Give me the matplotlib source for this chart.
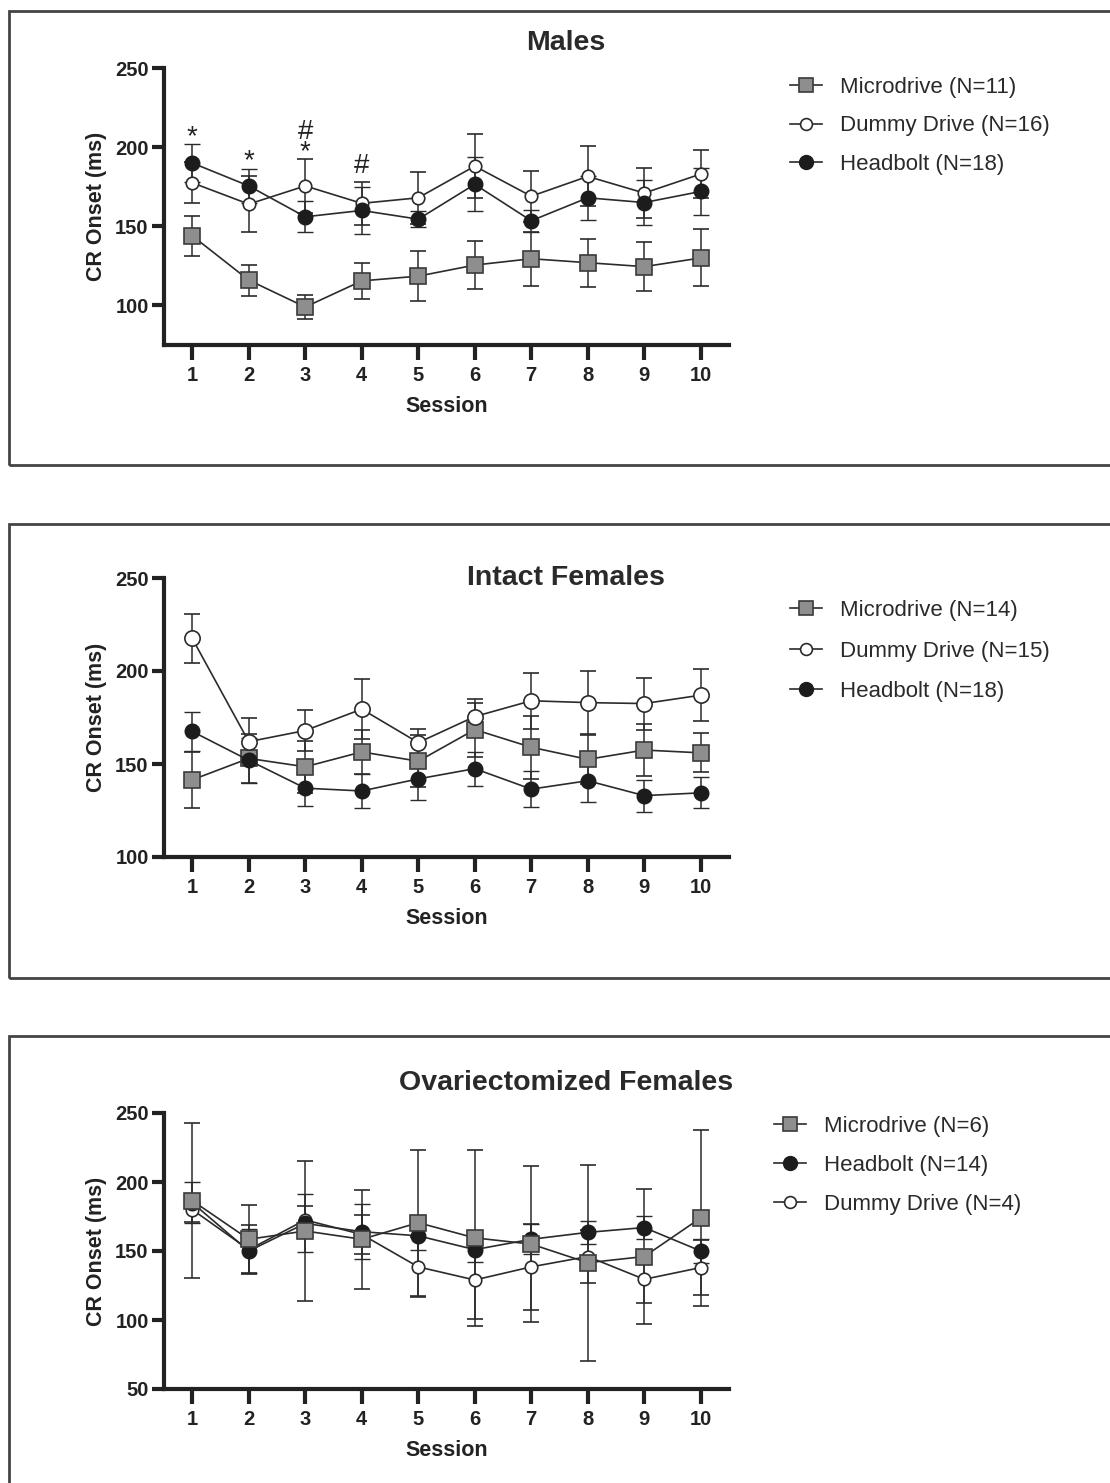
import matplotlib.pyplot as plt
from matplotlib.patches import Rectangle
from matplotlib.lines import Line2D

plt.rcParams['font.family'] = ['Liberation Sans', 'DejaVu Sans']

sessions = [1, 2, 3, 4, 5, 6, 7, 8, 9, 10]

# Males
males_micro = [144, 116, 99, 115.5, 118.5, 125.5, 129.5, 127, 124.5, 130]
males_micro_sem = [12.7, 9.8, 7.5, 11.5, 15.8, 15.2, 17, 15.2, 15.7, 18]
males_dummy = [177.5, 164, 175.5, 164.5, 168, 188, 169, 181.5, 171, 183]
males_dummy_sem = [13, 17.5, 17, 13.5, 16.5, 20, 16, 19, 16, 15]
males_head = [190, 175.5, 156, 160, 154.5, 176.5, 153.5, 168, 165, 172]
males_head_sem = [12, 10.5, 9.7, 15, 5, 17, 7, 14, 14, 15]

# Intact females
intact_micro = [141.5, 153, 148.5, 156.5, 151.5, 168.5, 159, 152.5, 157.5, 156]
intact_micro_sem = [15, 13, 14, 12, 14, 14.5, 17, 13, 14, 10.5]
intact_dummy = [217.5, 162, 168, 179.5, 161.5, 175.5, 184, 183, 182.5, 187]
intact_dummy_sem = [13, 12.5, 11, 16, 7.5, 9.3, 15, 17, 14, 14]
intact_head = [167.5, 152, 137, 135.5, 142, 147.5, 136.5, 141, 133, 134.5]
intact_head_sem = [10.5, 12, 9.5, 9, 11.5, 9.2, 9.7, 11.5, 8.6, 8.4]

# Ovariectomized females
ovx_micro = [186.5, 158.5, 164.5, 158.5, 170.5, 159.5, 155, 141.5, 146, 174]
ovx_micro_sem = [56, 24.5, 51, 36, 53, 63.5, 56.5, 71, 49, 64]
ovx_head = [185, 150, 170, 164, 161, 151, 158.5, 163.5, 167, 150]
ovx_head_sem = [15, 16, 21, 20, 10, 9, 11, 8.5, 8.5, 8.5]
ovx_dummy = [180, 151, 172.5, 162, 138.5, 129, 138.5, 146, 129.5, 138]
ovx_dummy_sem = [9, 18, 10, 14, 22, 28, 31, 19, 17.5, 20]

# significance marks over the males panel: (session, y, symbol)
males_marks = [(1, 206, '*'), (2, 191, '*'), (3, 203, '#\n*'), (4, 188, '#')]

LINE = '#2b2b2b'
GRAY = '#8e8e8e'

styles = {
    'micro': dict(marker='s', ms=11.5, mfc=GRAY, mec='#3a3a3a', mew=1.2),
    'dummy': dict(marker='o', ms=10, mfc='white', mec=LINE, mew=1.2),
    'head': dict(marker='o', ms=10.5, mfc='#1c1c1c', mec='#1c1c1c', mew=1.0),
}
legend_ms = {'micro': 9.5, 'dummy': 8.5, 'head': 10}

fig = plt.figure(figsize=(11.1, 14.83), dpi=100)
W, H = 1110, 1483


def fx(px):
    return px / W


def fy(py):
    return 1 - py / H


# panel frames
for top, bottom in [(11, 465), (524, 978), (1036, 1490)]:
    fig.patches.append(Rectangle((fx(9), fy(bottom)), fx(1200), fy(top) - fy(bottom),
                                 transform=fig.transFigure, fill=False,
                                 edgecolor='#444444', linewidth=2.0))


def draw_panel(ax, title, series, ylim, yticks, leg_pos, leg_order, title_y,
               dummy_ms=10, spacing=0.8):
    handles = {}
    for key, y, err, label in series:
        st = dict(styles[key])
        if key == 'dummy':
            st['ms'] = dummy_ms
        ax.errorbar(sessions, y, yerr=err, color=LINE, lw=1.2, elinewidth=1.1,
                    capsize=6, capthick=1.1, clip_on=False, **st)
        lst = dict(styles[key])
        lst['ms'] = legend_ms[key]
        handles[key] = (Line2D([], [], color=LINE, lw=1.2, **lst), label)
    ax.set_xlim(0.5, 10.5)
    ax.set_ylim(*ylim)
    ax.set_yticks(yticks)
    ax.set_xticks(sessions)
    for s in ['top', 'right']:
        ax.spines[s].set_visible(False)
    for s in ['left', 'bottom']:
        ax.spines[s].set_linewidth(3)
        ax.spines[s].set_color('#222222')
    ax.tick_params(axis='both', width=3, length=9, color='#222222', labelsize=14.5, pad=2)
    ax.tick_params(axis='x', length=11, pad=4)
    for t in ax.get_xticklabels() + ax.get_yticklabels():
        t.set_fontweight('bold')
        t.set_color('#222222')
    ax.set_xlabel('Session', fontsize=15.5, fontweight='bold', color='#222222', labelpad=8)
    ax.set_ylabel('CR Onset (ms)', fontsize=15.5, fontweight='bold', color='#222222', labelpad=6)
    fig.text(fx(566), fy(title_y), title, fontsize=20.5, fontweight='bold',
             color='#2a2a2a', ha='center', va='center')
    ax.legend([handles[k][0] for k in leg_order], [handles[k][1] for k in leg_order],
              loc='upper left', bbox_to_anchor=(fx(leg_pos[0]), fy(leg_pos[1])),
              bbox_transform=fig.transFigure, frameon=False, fontsize=16,
              handlelength=1.45, handletextpad=0.8, labelspacing=spacing,
              borderpad=0, borderaxespad=0, labelcolor='#2a2a2a')


# Males
ax1 = fig.add_axes([fx(164), fy(345), fx(729) - fx(164), fy(68) - fy(345)])
draw_panel(ax1, 'Males',
           [('micro', males_micro, males_micro_sem, 'Microdrive (N=11)'),
            ('dummy', males_dummy, males_dummy_sem, 'Dummy Drive (N=16)'),
            ('head', males_head, males_head_sem, 'Headbolt (N=18)')],
           (75, 250), [100, 150, 200, 250], (790, 77), ['micro', 'dummy', 'head'], 43,
           dummy_ms=9, spacing=0.78)
for s, y, sym in males_marks:
    ax1.text(s, y, sym, ha='center', va='center', fontsize=20, color='#222222',
             linespacing=0.72)

# Intact females
ax2 = fig.add_axes([fx(164), fy(857), fx(729) - fx(164), fy(578) - fy(857)])
draw_panel(ax2, 'Intact Females',
           [('micro', intact_micro, intact_micro_sem, 'Microdrive (N=14)'),
            ('dummy', intact_dummy, intact_dummy_sem, 'Dummy Drive (N=15)'),
            ('head', intact_head, intact_head_sem, 'Headbolt (N=18)')],
           (100, 250), [100, 150, 200, 250], (790, 600), ['micro', 'dummy', 'head'], 578,
           dummy_ms=11, spacing=0.88)

# Ovariectomized females
ax3 = fig.add_axes([fx(164), fy(1389), fx(729) - fx(164), fy(1113) - fy(1389)])
draw_panel(ax3, 'Ovariectomized Females',
           [('dummy', ovx_dummy, ovx_dummy_sem, 'Dummy Drive (N=4)'),
            ('head', ovx_head, ovx_head_sem, 'Headbolt (N=14)'),
            ('micro', ovx_micro, ovx_micro_sem, 'Microdrive (N=6)')],
           (50, 250), [50, 100, 150, 200, 250], (774, 1116), ['micro', 'head', 'dummy'], 1083,
           dummy_ms=9, spacing=0.8)

fig.savefig('out.png', dpi=100, facecolor='white')
